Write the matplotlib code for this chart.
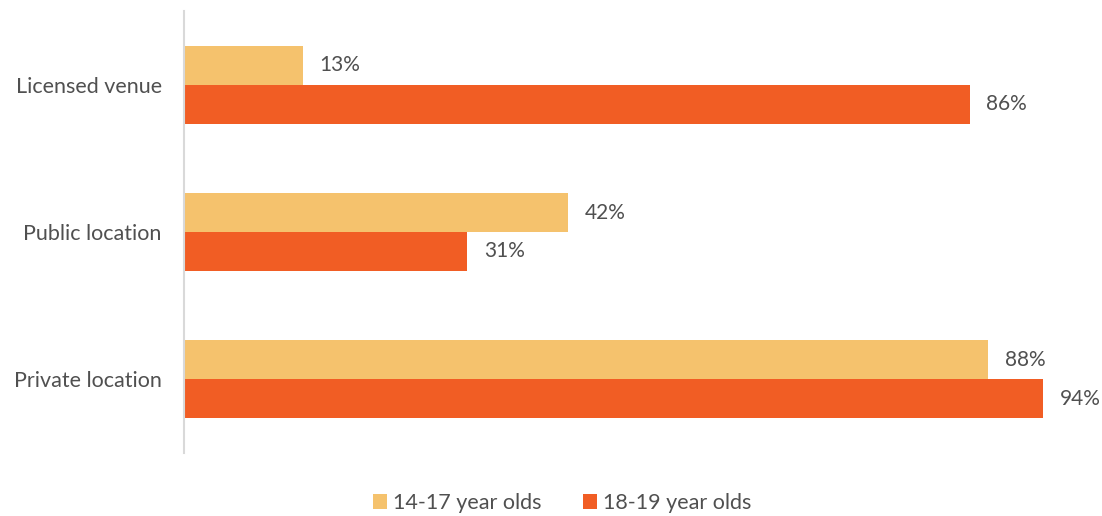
import numpy as np
import matplotlib.pyplot as plt

plt.rcParams['font.family'] = ['Lato', 'DejaVu Sans']

# 数据
categories = ["Licensed venue", "Public location", "Private location"]
age_14_17 = [13, 42, 88]
age_18_19 = [86, 31, 94]
series_names = ["14-17 year olds", "18-19 year olds"]
colors = ["#F5C26D", "#F15D24"]
text_color = "#505050"

fig = plt.figure(figsize=(11.02, 5.16), dpi=100)
ax = fig.add_axes([184 / 1102, 1 - 453 / 516, 914 / 1102, 442 / 516])

y = np.arange(len(categories))
h = 0.264
bars1 = ax.barh(y - h / 2, age_14_17, height=h, color=colors[0], label=series_names[0])
bars2 = ax.barh(y + h / 2, age_18_19, height=h, color=colors[1], label=series_names[1])

# 数值标签
for bars in (bars1, bars2):
    for b in bars:
        w = b.get_width()
        ax.text(w + 1.8, b.get_y() + b.get_height() / 2, f"{w:.0f}%",
                va="center", ha="left", fontsize=15, color=text_color)

ax.set_xlim(0, 100)
ax.set_ylim(2.5, -0.5)
ax.set_yticks(y)
ax.set_yticklabels(categories, fontsize=15.5, color=text_color)
ax.tick_params(axis="y", length=0, pad=16)
ax.set_xticks([])
for side in ("top", "right", "bottom"):
    ax.spines[side].set_visible(False)
ax.spines["left"].set_color("#D9D9D9")
ax.spines["left"].set_linewidth(1.5)

fig.legend(loc="center", bbox_to_anchor=(562 / 1102, 1 - 503 / 516), ncol=2,
           frameon=False, fontsize=15.5, handlelength=0.65, handleheight=0.65,
           handletextpad=0.3, columnspacing=1.9, labelcolor=text_color)

plt.savefig("out.png", dpi=100)
